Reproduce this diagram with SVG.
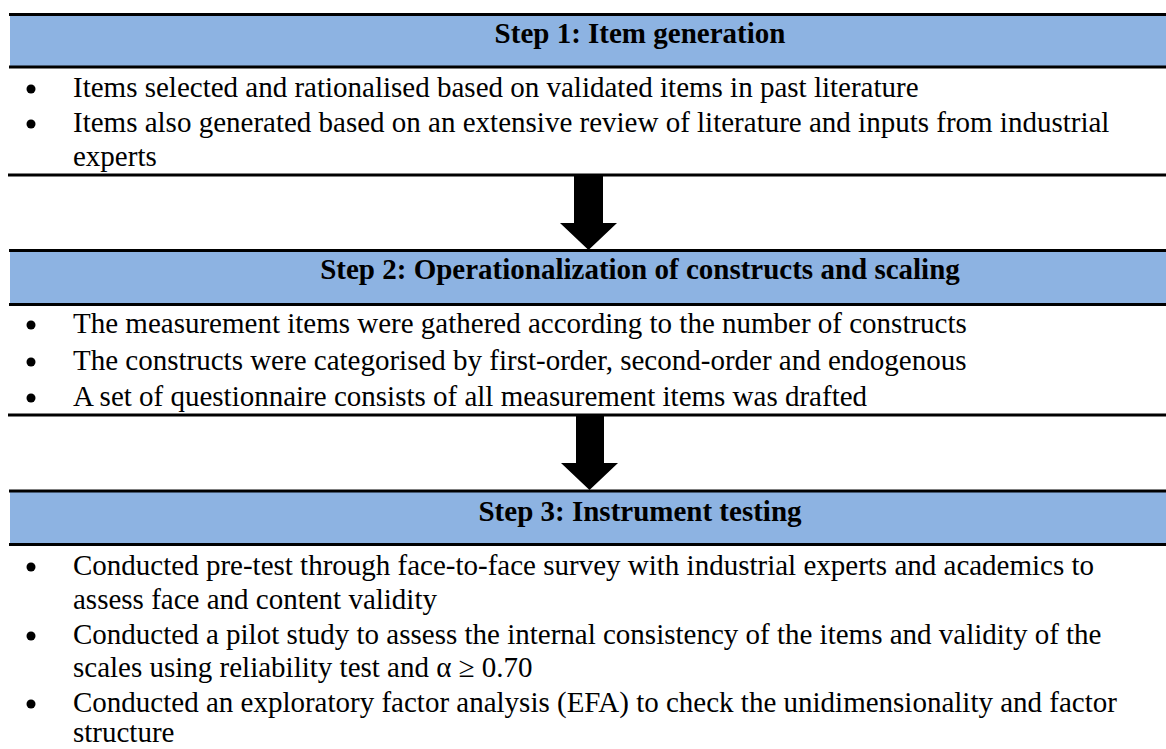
<svg xmlns="http://www.w3.org/2000/svg" width="1166" height="749" viewBox="0 0 1166 749">
<style>
.hdr{fill:#8DB3E2}
.ln{stroke:#000;stroke-width:3}
.ht{font-family:"Liberation Serif","Times New Roman",serif;font-size:29px;font-weight:bold;fill:#000;text-anchor:middle}
.bt{font-family:"Liberation Serif","Times New Roman",serif;font-size:29px;fill:#000}
.dot{fill:#000}
.arr{fill:#000}
</style>
<rect width="1166" height="749" fill="#fff"/>
<g id="step1">
<rect class="hdr" x="10" y="15" width="1156" height="52"/>
<line class="ln" x1="9" y1="14.5" x2="1166" y2="14.5"/>
<line class="ln" x1="9" y1="67" x2="1166" y2="67"/>
<text class="ht" x="640" y="43">Step 1: Item generation</text>
<circle class="dot" cx="31" cy="89" r="4.5"/>
<text class="bt" x="73" y="97">Items selected and rationalised based on validated items in past literature</text>
<circle class="dot" cx="31" cy="124" r="4.5"/>
<text class="bt" x="73" y="132">Items also generated based on an extensive review of literature and inputs from industrial</text>
<text class="bt" x="73" y="166">experts</text>
<line class="ln" x1="8" y1="175" x2="1166" y2="175"/>
</g>
<g id="step2">
<rect class="hdr" x="10" y="251" width="1156" height="53"/>
<line class="ln" x1="9" y1="250.5" x2="1166" y2="250.5"/>
<line class="ln" x1="9" y1="304.5" x2="1166" y2="304.5"/>
<text class="ht" x="640" y="279">Step 2: Operationalization of constructs and scaling</text>
<circle class="dot" cx="31" cy="325" r="4.5"/>
<text class="bt" x="73" y="333">The measurement items were gathered according to the number of constructs</text>
<circle class="dot" cx="31" cy="362" r="4.5"/>
<text class="bt" x="73" y="370">The constructs were categorised by first-order, second-order and endogenous</text>
<circle class="dot" cx="31" cy="398" r="4.5"/>
<text class="bt" x="73" y="406">A set of questionnaire consists of all measurement items was drafted</text>
<line class="ln" x1="8" y1="415" x2="1166" y2="415"/>
</g>
<g id="step3">
<rect class="hdr" x="10" y="491" width="1156" height="53"/>
<line class="ln" x1="9" y1="491" x2="1166" y2="491"/>
<line class="ln" x1="9" y1="544.5" x2="1166" y2="544.5"/>
<text class="ht" x="640" y="521">Step 3: Instrument testing</text>
<circle class="dot" cx="31" cy="567" r="4.5"/>
<text class="bt" x="73" y="575">Conducted pre-test through face-to-face survey with industrial experts and academics to</text>
<text class="bt" x="73" y="609">assess face and content validity</text>
<circle class="dot" cx="31" cy="636" r="4.5"/>
<text class="bt" x="73" y="644">Conducted a pilot study to assess the internal consistency of the items and validity of the</text>
<text class="bt" x="73" y="677">scales using reliability test and α ≥ 0.70</text>
<circle class="dot" cx="31" cy="704" r="4.5"/>
<text class="bt" x="73" y="712">Conducted an exploratory factor analysis (EFA) to check the unidimensionality and factor</text>
<text class="bt" x="73" y="742">structure</text>
</g>
<g id="connectors">
<polygon class="arr" points="574,175 603,175 603,223 617,223 588.5,250 560,223 574,223"/>
<polygon class="arr" points="576,415 604,415 604,463 618,463 589.5,490 561,463 576,463"/>
</g>
</svg>
